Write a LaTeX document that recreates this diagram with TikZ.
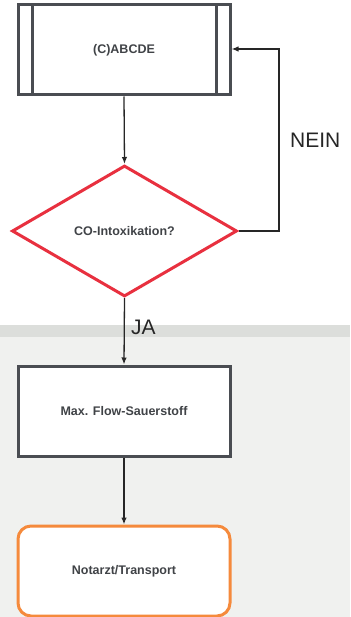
\documentclass[tikz,border=0pt]{standalone}
\usepackage{fontspec}
\setmainfont{Liberation Sans}
\usetikzlibrary{shapes.geometric,arrows.meta}
\definecolor{boxgray}{HTML}{4A4D52}
\definecolor{txtgray}{HTML}{404347}
\definecolor{dred}{HTML}{E8303F}
\definecolor{orng}{HTML}{F58A3C}
\definecolor{band}{HTML}{DCDEDB}
\definecolor{bgl}{HTML}{F0F1EF}
\tikzset{
  procbox/.style={draw=boxgray, line width=3pt, fill=white, minimum width=212pt, minimum height=90pt, inner sep=0pt, font=\bfseries\fontsize{12.5}{14}\selectfont, text=txtgray},
  decbox/.style={diamond, draw=dred, line width=3pt, fill=white, minimum width=225pt, minimum height=131pt, inner sep=0pt, font=\bfseries\fontsize{12.5}{14}\selectfont, text=txtgray},
  endbox/.style={draw=orng, line width=3pt, fill=white, rounded corners=13pt, minimum width=212pt, minimum height=90pt, inner sep=0pt, font=\bfseries\fontsize{12.5}{14}\selectfont, text=txtgray},
  conn/.style={line width=1.3pt, draw=black!85, -{Latex[length=7pt,width=5.5pt]}},
  lbl/.style={font=\fontsize{21}{23}\selectfont, text=black!85, inner sep=0pt}
}
\begin{document}
\begin{tikzpicture}[x=1pt,y=-1pt]
\useasboundingbox (0,0) rectangle (350,617);
\fill[white] (0,0) rectangle (350,325);
\fill[band] (0,325) rectangle (350,337);
\fill[bgl] (0,337) rectangle (350,617);
\node[procbox] (a) at (124,50) {(C)ABCDE};
\draw[boxgray, line width=3pt] (32,5) -- (32,95) (216,5) -- (216,95);
\node[decbox] (d) at (124.5,231) {CO-Intoxikation?};
\node[procbox] (m) at (124,411) {Max. Flow-Sauerstoff};
\node[endbox] (n) at (124,571) {Notarzt/Transport};
\coordinate (c1) at (279,231);
\coordinate (c2) at (279,49);
\draw[conn] (a.south) -- (d.north);
\draw[conn] (d.east) -- (c1) -- (c2) -- (a.east |- c2);
\draw[conn] (d.south) -- (m.north);
\draw[conn] (m.south) -- (n.north);
\node[lbl, anchor=west] (nein) at (290,140) {NEIN};
\node[lbl, anchor=west] (ja) at (131,327) {JA};
\end{tikzpicture}
\end{document}
